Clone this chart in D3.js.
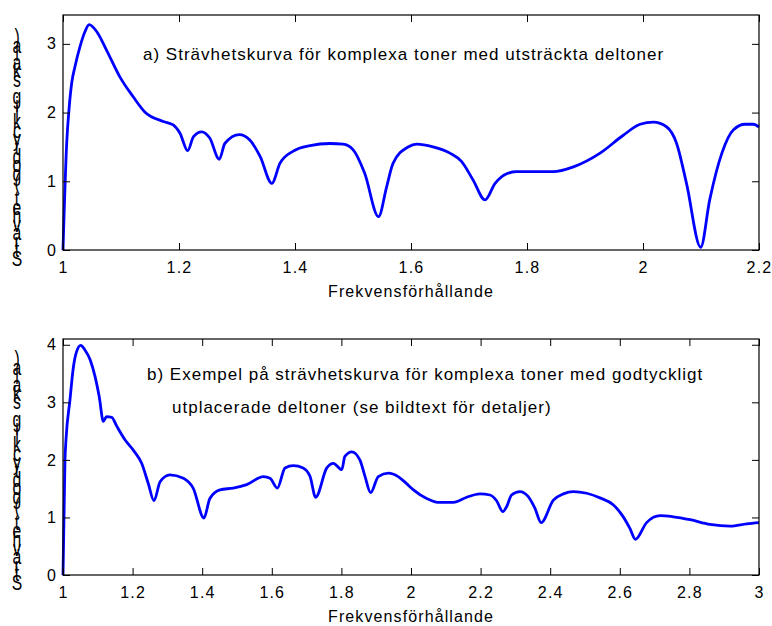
<!DOCTYPE html>
<html>
<head>
<meta charset="utf-8">
<script src="https://cdn.jsdelivr.net/npm/d3@7"></script>
<style>
body { margin: 0; background: #fff; }
text { font-family: "Liberation Sans", Arial, sans-serif; fill: #000; }
</style>
</head>
<body>
<svg width="772" height="626"></svg>
<script>
// curve a) - stretched partials
var ax = [1, 1.0064, 1.0103, 1.015, 1.0207, 1.0293, 1.038, 1.045, 1.058, 1.075, 1.098, 1.121, 1.141, 1.173, 1.19, 1.2017, 1.215, 1.225, 1.239, 1.253, 1.2695, 1.279, 1.304, 1.322, 1.34, 1.36, 1.374, 1.397, 1.426, 1.46, 1.483, 1.50, 1.52, 1.544, 1.558, 1.569, 1.595, 1.61, 1.638, 1.667, 1.687, 1.707, 1.7276, 1.745, 1.765, 1.782, 1.845, 1.88, 1.926, 1.966, 1.995, 2.018, 2.041, 2.058, 2.075, 2.0995, 2.115, 2.136, 2.156, 2.176, 2.19, 2.2];
var ay = [0, 1.56, 2.04, 2.43, 2.67, 2.96, 3.18, 3.28, 3.18, 2.91, 2.52, 2.23, 2.01, 1.87, 1.82, 1.70, 1.445, 1.65, 1.72, 1.63, 1.32, 1.55, 1.68, 1.60, 1.36, 0.97, 1.26, 1.44, 1.52, 1.55, 1.54, 1.46, 1.12, 0.485, 0.92, 1.26, 1.50, 1.54, 1.50, 1.41, 1.29, 1.02, 0.73, 0.97, 1.11, 1.14, 1.14, 1.21, 1.41, 1.67, 1.83, 1.86, 1.79, 1.55, 0.97, 0.04, 0.73, 1.41, 1.75, 1.83, 1.83, 1.79];

// curve b) - arbitrary partials
var bx = [1, 1.0057, 1.0086, 1.020, 1.0296, 1.039, 1.051, 1.063, 1.078, 1.092, 1.104, 1.116, 1.125, 1.14, 1.154, 1.178, 1.202, 1.226, 1.245, 1.2615, 1.279, 1.307, 1.346, 1.374, 1.405, 1.422, 1.451, 1.489, 1.528, 1.576, 1.595, 1.616, 1.638, 1.662, 1.69, 1.71, 1.726, 1.758, 1.777, 1.801, 1.81, 1.83, 1.853, 1.868, 1.884, 1.906, 1.935, 1.963, 1.985, 2.007, 2.045, 2.083, 2.122, 2.16, 2.198, 2.227, 2.246, 2.264, 2.275, 2.289, 2.313, 2.337, 2.356, 2.374, 2.409, 2.438, 2.466, 2.505, 2.543, 2.581, 2.61, 2.629, 2.645, 2.677, 2.716, 2.754, 2.802, 2.859, 2.917, 2.965, 3];
var by = [0, 2.0, 2.35, 3.04, 3.6, 3.88, 3.99, 3.91, 3.74, 3.45, 3.10, 2.67, 2.75, 2.74, 2.59, 2.35, 2.17, 1.94, 1.59, 1.29, 1.62, 1.74, 1.68, 1.51, 0.99, 1.33, 1.48, 1.51, 1.57, 1.71, 1.68, 1.51, 1.86, 1.90, 1.86, 1.71, 1.35, 1.86, 1.94, 1.83, 2.06, 2.14, 2.0, 1.71, 1.43, 1.71, 1.77, 1.71, 1.60, 1.48, 1.33, 1.26, 1.26, 1.35, 1.41, 1.39, 1.29, 1.10, 1.19, 1.39, 1.45, 1.36, 1.16, 0.91, 1.30, 1.41, 1.45, 1.42, 1.34, 1.22, 1.01, 0.81, 0.62, 0.91, 1.03, 1.01, 0.96, 0.88, 0.85, 0.89, 0.91];

var xTicksA = [1, 1.2, 1.4, 1.6, 1.8, 2, 2.2];
var xTicksB = [1, 1.2, 1.4, 1.6, 1.8, 2, 2.2, 2.4, 2.6, 2.8, 3];
var yTicksA = [0, 1, 2, 3];
var yTicksB = [0, 1, 2, 3, 4];

var xlabel = "Frekvensförhållande";
var ylabel = "Strävhet (godtycklig skala)";
var noteA = ["a) Strävhetskurva för komplexa toner med utsträckta deltoner"];
var noteB = ["b) Exempel på strävhetskurva för komplexa toner med godtyckligt",
             "utplacerade deltoner (se bildtext för detaljer)"];

var svg = d3.select("svg");
var fmt = function(d) { return String(+d.toFixed(1)); };

function panel(o) {
  var x = d3.scaleLinear().domain(o.xdom).range([63, 759]);
  var y = d3.scaleLinear().domain(o.ydom).range([o.bottom, o.top]);
  var g = svg.append("g");

  var pts = o.xs.map(function(d, i) { return [d, o.ys[i]]; });
  g.append("path")
    .datum(pts)
    .attr("fill", "none")
    .attr("stroke", "#0000ff")
    .attr("stroke-width", 2.8)
    .attr("stroke-linejoin", "round")
    .attr("d", d3.line().curve(d3.curveMonotoneX)
      .x(function(d) { return x(d[0]); }).y(function(d) { return y(d[1]); }));

  g.append("g").attr("transform", "translate(0," + o.bottom + ")")
    .call(d3.axisBottom(x).tickValues(o.xt).tickFormat(fmt).tickSizeInner(-7).tickSizeOuter(0).tickPadding(11.5));
  g.append("g").attr("transform", "translate(0," + o.top + ")")
    .call(d3.axisTop(x).tickValues(o.xt).tickFormat("").tickSizeInner(-7).tickSizeOuter(0));
  g.append("g").attr("transform", "translate(63,0)")
    .call(d3.axisLeft(y).tickValues(o.yt).tickFormat(fmt).tickSizeInner(-7).tickSizeOuter(0).tickPadding(6));
  g.append("g").attr("transform", "translate(759,0)")
    .call(d3.axisRight(y).tickValues(o.yt).tickFormat("").tickSizeInner(-7).tickSizeOuter(0));

  g.selectAll(".domain").remove();
  g.selectAll(".tick line").attr("stroke", "#000");
  g.selectAll(".tick text")
    .attr("font-family", "Liberation Sans, Arial, sans-serif")
    .attr("font-size", 16)
    .attr("letter-spacing", 1.2)
    .attr("fill", "#000");

  g.append("rect")
    .attr("x", 63).attr("y", o.top)
    .attr("width", 696).attr("height", o.bottom - o.top)
    .attr("fill", "none").attr("stroke", "#000").attr("stroke-width", 1.2);

  g.append("text")
    .attr("x", 411).attr("y", o.bottom + 47)
    .attr("text-anchor", "middle")
    .attr("font-size", 16)
    .attr("letter-spacing", 1.1)
    .text(xlabel);

  o.notes.forEach(function(t, i) {
    g.append("text")
      .attr("x", o.noteX[i]).attr("y", o.noteY[i])
      .attr("font-size", 17)
      .attr("letter-spacing", 1.0)
      .text(t);
  });

  // stacked y label, one upright glyph per character
  var chars = ylabel.split("");
  chars.forEach(function(c, i) {
    g.append("text")
      .attr("transform", "translate(17," + (o.labBottom - i * o.labStep) + ") scale(1.05,1.45)")
      .attr("text-anchor", "middle")
      .attr("font-size", 15)
      .text(c);
  });
}

panel({ xdom: [1, 2.2], ydom: [0, 3.42], top: 15, bottom: 250,
        xs: ax, ys: ay, xt: xTicksA, yt: yTicksA,
        notes: noteA, noteX: [143], noteY: [60],
        labBottom: 266, labStep: 8.54 });

panel({ xdom: [1, 3], ydom: [0, 4.1], top: 339, bottom: 575,
        xs: bx, ys: by, xt: xTicksB, yt: yTicksB,
        notes: noteB, noteX: [147, 172], noteY: [380, 413],
        labBottom: 590, labStep: 8.6 });
</script>
</body>
</html>
